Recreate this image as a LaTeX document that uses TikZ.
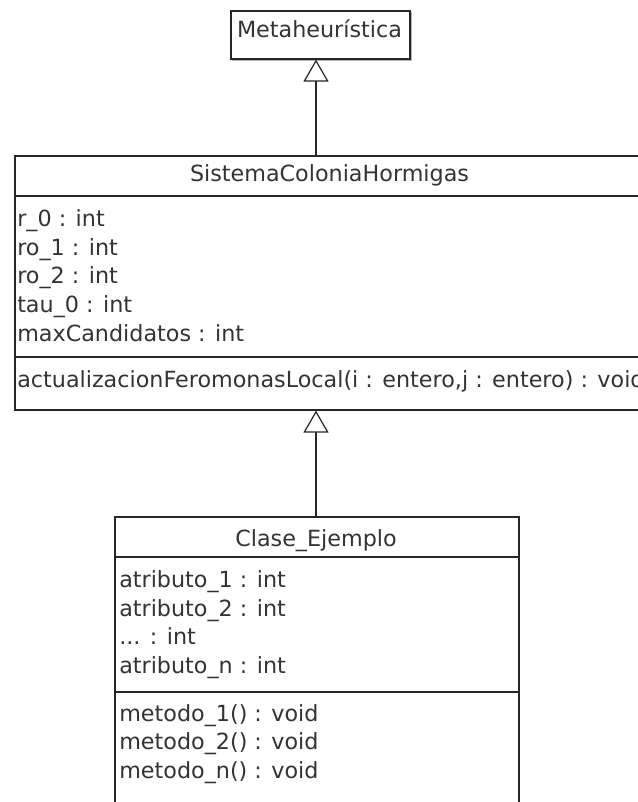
\documentclass[tikz,border=0pt]{standalone}
\usepackage{fontspec}
\setmainfont{DejaVu Sans}
\usetikzlibrary{arrows.meta}
\definecolor{linecol}{HTML}{262626}
\definecolor{txtcol}{HTML}{333333}
\begin{document}
\begin{tikzpicture}[x=0.75pt,y=-0.75pt,
  classbox/.style={draw=linecol, line width=1.2pt, fill=white, inner sep=0pt, anchor=north west},
  sepline/.style={draw=linecol, line width=1.2pt},
  uml/.style={text=txtcol, font=\fontsize{16.7}{20}\selectfont, inner sep=0pt},
  member/.style={uml, anchor=base west},
  title/.style={uml, anchor=base},
  inherit/.style={draw=linecol, line width=0.9pt,
    -{Triangle[open, length=16.5pt, width=18.75pt, fill=white]}}]
\clip (0,0) rectangle (638,802);
\fill[white] (0,0) rectangle (638,802);

% superclass with its soft shadow
\fill[black!30] (232,12) rectangle (412,61);
\node[classbox, minimum width=179*0.75pt, minimum height=48*0.75pt] (meta) at (230,10) {};
\node[title] (metaT) at (319.5,38) {Metaheurística};

% ant colony system class
\node[classbox, minimum width=631*0.75pt, minimum height=254*0.75pt] (sis) at (14,155) {};
\node[title] (sisT) at (329.5,182) {SistemaColoniaHormigas};
\draw[sepline] (14,196) -- (645,196);
\draw[sepline] (14,357) -- (645,357);
\node[member] (a1) at (17,226.5) {r\_0 : int};
\node[member] (a2) at (17,255) {ro\_1 : int};
\node[member] (a3) at (17,283.5) {ro\_2 : int};
\node[member] (a4) at (17,312) {tau\_0 : int};
\node[member] (a5) at (17,341) {maxCandidatos : int};
\node[member] (m1) at (17,387) {actualizacionFeromonasLocal(i : entero,j : entero) : void};

% example subclass
\node[classbox, minimum width=404*0.75pt, minimum height=320*0.75pt] (ej) at (114,516) {};
\node[title] (ejT) at (316,546) {Clase\_Ejemplo};
\draw[sepline] (114,557) -- (518,557);
\draw[sepline] (114,692) -- (518,692);
\node[member] (b1) at (119,587.5) {atributo\_1 : int};
\node[member] (b2) at (119,616) {atributo\_2 : int};
\node[member] (b3) at (119,644.5) {... : int};
\node[member] (b4) at (119,673) {atributo\_n : int};
\node[member] (c1) at (119,721) {metodo\_1() : void};
\node[member] (c2) at (119,749.5) {metodo\_2() : void};
\node[member] (c3) at (119,778) {metodo\_n() : void};

% generalisation arrows
\coordinate (ax) at (316,0);
\draw[inherit] (sis.north -| ax) -- (meta.south -| ax);
\draw[inherit] (ej.north -| ax) -- (sis.south -| ax);
\end{tikzpicture}
\end{document}
